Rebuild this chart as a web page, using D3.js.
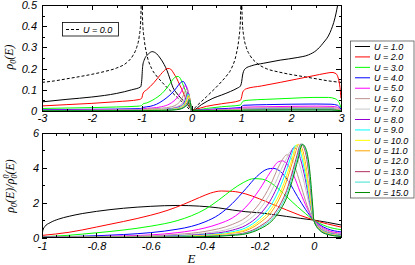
<!DOCTYPE html>
<html>
<head>
<meta charset="utf-8">
<script src="https://cdn.jsdelivr.net/npm/d3@7"></script>
<style>
    body { margin: 0; background: #fff; }
    svg { display: block; }
    .tick text { font-family: "Liberation Sans", Arial, sans-serif; font-style: italic; font-size: 11px; fill: #000; }
    .tick line { stroke: #000; shape-rendering: crispEdges; }
</style>
</head>
<body>
<svg id="chart" width="415" height="265"></svg>
<script>
// Interaction strengths shown in the legend
const uValues = [1, 2, 3, 4, 5, 6, 7, 8, 9, 10, 11, 12, 13, 14, 15];

// Non-interacting density of states (dashed, U = 0.0)
const dos0 = [
    [-3, 0.135], [-2.75, 0.142], [-2.5, 0.152], [-2.25, 0.162], [-2, 0.173], [-1.75, 0.186], [-1.5, 0.203],
    [-1.3, 0.228], [-1.18, 0.26], [-1.1, 0.3], [-1.05, 0.35], [-1.02, 0.42], [-1.005, 0.52],
    [-0.995, 0.52], [-0.98, 0.42], [-0.95, 0.34], [-0.9, 0.27], [-0.8, 0.2], [-0.7, 0.165], [-0.6, 0.138],
    [-0.5, 0.113], [-0.4, 0.09], [-0.3, 0.067], [-0.2, 0.045], [-0.1, 0.023], [0, 0],
    [0.1, 0.023], [0.2, 0.045], [0.3, 0.067], [0.4, 0.09], [0.5, 0.113], [0.6, 0.138], [0.7, 0.165],
    [0.8, 0.2], [0.9, 0.27], [0.95, 0.34], [0.98, 0.42], [0.995, 0.52],
    [1.005, 0.52], [1.02, 0.42], [1.05, 0.35], [1.1, 0.3], [1.18, 0.26], [1.3, 0.228], [1.5, 0.2],
    [1.75, 0.184], [2, 0.172], [2.25, 0.162], [2.5, 0.152], [2.75, 0.142], [3, 0.135]
];

// rho_0(E) for each U (upper panel)
const rhoCurves = [
    [[-3, 0.043], [-2.5, 0.055], [-2, 0.066], [-1.5, 0.083], [-1.2, 0.1], [-1.02, 0.114], [-1.0, 0.14], [-0.98, 0.21],
     [-0.95, 0.24], [-0.86, 0.27], [-0.79, 0.28], [-0.7, 0.27], [-0.63, 0.25], [-0.55, 0.22], [-0.49, 0.19],
     [-0.43, 0.15], [-0.37, 0.11], [-0.3, 0.085], [-0.23, 0.065], [-0.15, 0.045], [-0.08, 0.03], [-0.03, 0.015],
     [0, 0.004], [0.03, 0.004], [0.2, 0.03], [0.43, 0.06], [0.6, 0.075], [0.78, 0.092], [0.92, 0.108], [0.98, 0.117],
     [1.0, 0.13], [1.03, 0.175], [1.08, 0.2], [1.2, 0.213], [1.44, 0.225], [1.78, 0.24], [2.12, 0.252], [2.35, 0.265],
     [2.5, 0.285], [2.64, 0.32], [2.78, 0.37], [2.88, 0.44], [2.95, 0.52]],
    [[-3, 0.024], [-2.5, 0.03], [-2, 0.036], [-1.5, 0.044], [-1.05, 0.054], [-1.0, 0.06], [-0.97, 0.085], [-0.9, 0.1],
     [-0.83, 0.115], [-0.75, 0.135], [-0.69, 0.152], [-0.62, 0.172], [-0.55, 0.19], [-0.49, 0.2], [-0.44, 0.2],
     [-0.4, 0.193], [-0.35, 0.175], [-0.3, 0.155], [-0.23, 0.12], [-0.18, 0.095], [-0.13, 0.065], [-0.07, 0.04],
     [-0.03, 0.02], [0, 0.004], [0.05, 0.006], [0.3, 0.022], [0.6, 0.034], [0.98, 0.05], [1.0, 0.06], [1.03, 0.09],
     [1.1, 0.105], [1.4, 0.118], [1.78, 0.135], [2.1, 0.15], [2.44, 0.166], [2.7, 0.178], [2.82, 0.182], [2.9, 0.176],
     [2.95, 0.15], [2.98, 0.11], [3, 0.06]],
    [[-3, 0.012], [-2, 0.016], [-1.5, 0.019], [-1.05, 0.023], [-1.0, 0.026], [-0.97, 0.034], [-0.9, 0.038],
     [-0.83, 0.045], [-0.72, 0.06], [-0.63, 0.075], [-0.55, 0.093], [-0.49, 0.11], [-0.43, 0.13], [-0.37, 0.15],
     [-0.31, 0.162], [-0.27, 0.163], [-0.22, 0.152], [-0.18, 0.13], [-0.13, 0.1], [-0.09, 0.075], [-0.05, 0.045],
     [-0.02, 0.02], [0, 0.004], [0.05, 0.004], [0.3, 0.012], [0.6, 0.02], [0.98, 0.028], [1.0, 0.035], [1.04, 0.047],
     [1.15, 0.051], [1.5, 0.055], [2, 0.06], [2.44, 0.064], [2.75, 0.064], [2.88, 0.058], [2.95, 0.045], [3, 0.015]],
    [[-3, 0.006], [-2, 0.008], [-1.05, 0.011], [-1.0, 0.013], [-0.97, 0.017], [-0.83, 0.022], [-0.7, 0.032],
     [-0.57, 0.05], [-0.45, 0.072], [-0.37, 0.09], [-0.3, 0.11], [-0.25, 0.126], [-0.2, 0.137], [-0.17, 0.14],
     [-0.13, 0.128], [-0.09, 0.105], [-0.06, 0.075], [-0.03, 0.04], [0, 0.004], [0.05, 0.003], [0.5, 0.01],
     [0.98, 0.016], [1.0, 0.02], [1.05, 0.027], [1.5, 0.03], [2, 0.032], [2.5, 0.033], [2.8, 0.032], [2.93, 0.027], [3, 0.008]],
    [[-3, 0.004], [-2, 0.005], [-1.05, 0.007], [-1.0, 0.008], [-0.97, 0.011], [-0.8, 0.014], [-0.6, 0.02],
     [-0.45, 0.032], [-0.35, 0.048], [-0.27, 0.068], [-0.21, 0.09], [-0.16, 0.11], [-0.13, 0.12], [-0.1, 0.114],
     [-0.07, 0.095], [-0.045, 0.065], [-0.02, 0.03], [0, 0.004], [0.05, 0.002], [0.5, 0.007], [0.98, 0.011],
     [1.0, 0.013], [1.05, 0.018], [1.5, 0.02], [2, 0.022], [2.5, 0.023], [2.8, 0.022], [2.93, 0.018], [3, 0.005]],
    [[-3, 0.003], [-1.05, 0.005], [-1.0, 0.006], [-0.97, 0.008], [-0.6, 0.013], [-0.4, 0.02], [-0.3, 0.03],
     [-0.22, 0.048], [-0.16, 0.075], [-0.12, 0.097], [-0.1, 0.105], [-0.08, 0.1], [-0.055, 0.08], [-0.03, 0.045],
     [-0.01, 0.015], [0, 0.004], [0.05, 0.002], [0.5, 0.005], [0.98, 0.008], [1.0, 0.01], [1.05, 0.013], [2, 0.016],
     [2.8, 0.016], [2.93, 0.013], [3, 0.004]],
    [[-3, 0.002], [-1.0, 0.004], [-0.97, 0.006], [-0.6, 0.009], [-0.4, 0.014], [-0.3, 0.02], [-0.2, 0.034],
     [-0.14, 0.06], [-0.1, 0.088], [-0.085, 0.095], [-0.065, 0.088], [-0.045, 0.068], [-0.025, 0.04], [-0.01, 0.015],
     [0, 0.004], [0.05, 0.002], [0.98, 0.006], [1.05, 0.01], [2, 0.012], [2.8, 0.012], [3, 0.003]],
    [[-3, 0.002], [-1.0, 0.003], [-0.97, 0.005], [-0.6, 0.007], [-0.4, 0.011], [-0.3, 0.016], [-0.2, 0.027],
     [-0.13, 0.05], [-0.095, 0.075], [-0.075, 0.087], [-0.058, 0.082], [-0.04, 0.065], [-0.022, 0.038],
     [-0.008, 0.014], [0, 0.004], [0.05, 0.002], [0.98, 0.005], [1.05, 0.008], [2, 0.01], [2.8, 0.01], [3, 0.003]],
    [[-3, 0.002], [-1.0, 0.003], [-0.97, 0.004], [-0.6, 0.006], [-0.4, 0.009], [-0.3, 0.013], [-0.2, 0.022],
     [-0.13, 0.04], [-0.095, 0.062], [-0.068, 0.08], [-0.052, 0.075], [-0.036, 0.06], [-0.02, 0.035],
     [-0.007, 0.013], [0, 0.004], [0.05, 0.002], [0.98, 0.004], [1.05, 0.007], [2, 0.009], [2.8, 0.009], [3, 0.002]],
    [[-3, 0.002], [-1.0, 0.003], [-0.97, 0.004], [-0.6, 0.005], [-0.4, 0.008], [-0.3, 0.011], [-0.2, 0.019],
     [-0.13, 0.035], [-0.09, 0.056], [-0.062, 0.074], [-0.047, 0.07], [-0.033, 0.056], [-0.018, 0.033],
     [-0.006, 0.012], [0, 0.004], [0.05, 0.002], [0.98, 0.004], [1.05, 0.006], [2, 0.008], [2.8, 0.008], [3, 0.002]],
    [[-3, 0.001], [-1.0, 0.002], [-0.97, 0.003], [-0.6, 0.004], [-0.4, 0.007], [-0.3, 0.01], [-0.2, 0.017],
     [-0.13, 0.031], [-0.085, 0.05], [-0.056, 0.068], [-0.043, 0.065], [-0.03, 0.052], [-0.016, 0.031],
     [-0.005, 0.011], [0, 0.004], [0.05, 0.002], [0.98, 0.003], [1.05, 0.005], [2, 0.007], [2.8, 0.007], [3, 0.002]],
    [[-3, 0.001], [-1.0, 0.002], [-0.97, 0.003], [-0.6, 0.004], [-0.4, 0.006], [-0.3, 0.009], [-0.2, 0.015],
     [-0.13, 0.028], [-0.08, 0.046], [-0.052, 0.063], [-0.04, 0.06], [-0.028, 0.049], [-0.015, 0.03],
     [-0.005, 0.011], [0, 0.004], [0.05, 0.002], [0.98, 0.003], [1.05, 0.005], [2, 0.006], [2.8, 0.006], [3, 0.002]],
    [[-3, 0.001], [-1.0, 0.002], [-0.97, 0.003], [-0.6, 0.003], [-0.4, 0.005], [-0.3, 0.008], [-0.2, 0.013],
     [-0.13, 0.025], [-0.075, 0.043], [-0.048, 0.059], [-0.037, 0.056], [-0.026, 0.046], [-0.014, 0.028],
     [-0.004, 0.01], [0, 0.004], [0.05, 0.002], [0.98, 0.003], [1.05, 0.004], [2, 0.006], [2.8, 0.006], [3, 0.002]],
    [[-3, 0.001], [-1.0, 0.002], [-0.97, 0.002], [-0.6, 0.003], [-0.4, 0.005], [-0.3, 0.007], [-0.2, 0.012],
     [-0.13, 0.022], [-0.07, 0.04], [-0.045, 0.055], [-0.034, 0.052], [-0.024, 0.043], [-0.013, 0.026],
     [-0.004, 0.01], [0, 0.004], [0.05, 0.002], [0.98, 0.002], [1.05, 0.004], [2, 0.005], [2.8, 0.005], [3, 0.001]],
    [[-3, 0.001], [-1.0, 0.002], [-0.97, 0.002], [-0.6, 0.003], [-0.4, 0.004], [-0.3, 0.006], [-0.2, 0.011],
     [-0.13, 0.02], [-0.066, 0.037], [-0.042, 0.052], [-0.032, 0.049], [-0.022, 0.04], [-0.012, 0.024],
     [-0.004, 0.009], [0, 0.004], [0.05, 0.002], [0.98, 0.002], [1.05, 0.004], [2, 0.005], [2.8, 0.005], [3, 0.001]]
];

// rho_0(E) / rho_0^0(E) for each U (lower panel)
const ratioCurves = [
    [[-1, 0], [-0.997, 0.4], [-0.99, 0.62], [-0.97, 0.85], [-0.94, 1.05], [-0.9, 1.22], [-0.85, 1.38], [-0.8, 1.5],
     [-0.7, 1.68], [-0.6, 1.79], [-0.5, 1.84], [-0.42, 1.8], [-0.35, 1.7], [-0.3, 1.58], [-0.25, 1.48], [-0.2, 1.42],
     [-0.15, 1.32], [-0.1, 1.21], [-0.05, 1.1], [0, 1.0], [0.02, 0.95], [0.05, 0.87], [0.1, 0.72]],
    [[-1, 0.12], [-0.95, 0.2], [-0.9, 0.3], [-0.8, 0.6], [-0.7, 0.92], [-0.6, 1.28], [-0.54, 1.55], [-0.48, 1.9],
     [-0.42, 2.3], [-0.38, 2.55], [-0.34, 2.67], [-0.3, 2.65], [-0.25, 2.5], [-0.2, 2.22], [-0.15, 1.9], [-0.1, 1.58],
     [-0.05, 1.27], [0, 1.0], [0.02, 0.9], [0.05, 0.78], [0.1, 0.6]],
    [[-1, 0.04], [-0.9, 0.13], [-0.8, 0.27], [-0.7, 0.43], [-0.6, 0.65], [-0.5, 0.98], [-0.45, 1.25], [-0.4, 1.62],
     [-0.35, 2.15], [-0.3, 2.75], [-0.26, 3.15], [-0.22, 3.38], [-0.19, 3.35], [-0.15, 3.05], [-0.12, 2.65],
     [-0.08, 2.05], [-0.04, 1.5], [0, 1.0], [0.02, 0.82], [0.05, 0.62], [0.1, 0.45]],
    [[-1, 0.02], [-0.9, 0.05], [-0.8, 0.1], [-0.7, 0.17], [-0.6, 0.28], [-0.5, 0.48], [-0.45, 0.64], [-0.4, 0.9],
     [-0.35, 1.3], [-0.3, 1.95], [-0.25, 2.8], [-0.21, 3.5], [-0.17, 3.93], [-0.15, 3.97], [-0.12, 3.75],
     [-0.09, 3.15], [-0.06, 2.35], [-0.03, 1.6], [0, 1.0], [0.02, 0.75], [0.05, 0.5], [0.1, 0.32]],
    [[-1, 0.01], [-0.8, 0.06], [-0.6, 0.15], [-0.5, 0.28], [-0.4, 0.55], [-0.35, 0.78], [-0.3, 1.12], [-0.25, 1.75],
     [-0.2, 2.75], [-0.16, 3.75], [-0.13, 4.35], [-0.115, 4.4], [-0.095, 4.15], [-0.075, 3.6], [-0.05, 2.6],
     [-0.025, 1.7], [0, 1.0], [0.02, 0.7], [0.05, 0.42], [0.1, 0.25]],
    [[-1, 0.005], [-0.8, 0.04], [-0.6, 0.1], [-0.5, 0.18], [-0.4, 0.35], [-0.3, 0.75], [-0.25, 1.15], [-0.2, 1.95],
     [-0.16, 3.0], [-0.13, 4.05], [-0.11, 4.6], [-0.1, 4.75], [-0.085, 4.6], [-0.065, 3.85], [-0.045, 2.85],
     [-0.025, 1.85], [0, 1.0], [0.02, 0.65], [0.05, 0.36], [0.1, 0.2]],
    [[-1, 0.004], [-0.8, 0.03], [-0.6, 0.07], [-0.5, 0.13], [-0.4, 0.25], [-0.3, 0.55], [-0.25, 0.9], [-0.2, 1.6],
     [-0.15, 2.85], [-0.12, 3.9], [-0.1, 4.55], [-0.085, 4.95], [-0.07, 4.85], [-0.055, 4.3], [-0.04, 3.45],
     [-0.02, 2.1], [0, 1.0], [0.02, 0.6], [0.05, 0.32], [0.1, 0.17]],
    [[-1, 0.003], [-0.8, 0.02], [-0.6, 0.05], [-0.5, 0.1], [-0.4, 0.19], [-0.3, 0.42], [-0.25, 0.7], [-0.2, 1.3],
     [-0.15, 2.4], [-0.12, 3.45], [-0.1, 4.25], [-0.085, 4.85], [-0.075, 5.15], [-0.062, 5.05], [-0.048, 4.45],
     [-0.032, 3.4], [-0.015, 2.0], [0, 1.0], [0.02, 0.57], [0.05, 0.29], [0.1, 0.15]],
    [[-1, 0.002], [-0.8, 0.015], [-0.6, 0.04], [-0.5, 0.08], [-0.4, 0.15], [-0.3, 0.33], [-0.25, 0.56], [-0.2, 1.1],
     [-0.15, 2.05], [-0.12, 3.05], [-0.1, 3.9], [-0.085, 4.6], [-0.068, 5.28], [-0.055, 5.1], [-0.042, 4.45],
     [-0.028, 3.35], [-0.012, 1.9], [0, 1.0], [0.02, 0.54], [0.05, 0.27], [0.1, 0.13]],
    [[-1, 0.002], [-0.8, 0.012], [-0.6, 0.03], [-0.5, 0.06], [-0.4, 0.12], [-0.3, 0.27], [-0.25, 0.46], [-0.2, 0.95],
     [-0.15, 1.8], [-0.12, 2.7], [-0.1, 3.55], [-0.08, 4.5], [-0.062, 5.33], [-0.05, 5.15], [-0.038, 4.5],
     [-0.025, 3.4], [-0.01, 1.85], [0, 1.0], [0.02, 0.52], [0.05, 0.25], [0.1, 0.11]],
    [[-1, 0.001], [-0.8, 0.01], [-0.6, 0.025], [-0.5, 0.05], [-0.4, 0.1], [-0.3, 0.22], [-0.25, 0.39], [-0.2, 0.83],
     [-0.15, 1.6], [-0.12, 2.45], [-0.1, 3.25], [-0.08, 4.25], [-0.065, 5.0], [-0.056, 5.35], [-0.045, 5.2],
     [-0.034, 4.6], [-0.022, 3.5], [-0.008, 1.8], [0, 1.0], [0.02, 0.5], [0.05, 0.23], [0.1, 0.1]],
    [[-1, 0.001], [-0.8, 0.008], [-0.6, 0.02], [-0.5, 0.04], [-0.4, 0.08], [-0.3, 0.19], [-0.25, 0.33], [-0.2, 0.72],
     [-0.15, 1.42], [-0.12, 2.2], [-0.1, 2.95], [-0.08, 3.95], [-0.065, 4.75], [-0.052, 5.36], [-0.042, 5.22],
     [-0.031, 4.65], [-0.02, 3.55], [-0.007, 1.8], [0, 1.0], [0.02, 0.48], [0.05, 0.21], [0.1, 0.09]],
    [[-1, 0.001], [-0.8, 0.007], [-0.6, 0.017], [-0.5, 0.034], [-0.4, 0.07], [-0.3, 0.16], [-0.25, 0.28], [-0.2, 0.63],
     [-0.15, 1.27], [-0.12, 2.0], [-0.1, 2.7], [-0.08, 3.7], [-0.062, 4.7], [-0.048, 5.36], [-0.038, 5.22],
     [-0.028, 4.7], [-0.018, 3.6], [-0.006, 1.8], [0, 1.0], [0.02, 0.46], [0.05, 0.2], [0.1, 0.08]],
    [[-1, 0.001], [-0.8, 0.006], [-0.6, 0.014], [-0.5, 0.028], [-0.4, 0.06], [-0.3, 0.14], [-0.25, 0.24], [-0.2, 0.55],
     [-0.15, 1.14], [-0.12, 1.82], [-0.1, 2.48], [-0.08, 3.45], [-0.06, 4.6], [-0.045, 5.36], [-0.035, 5.22],
     [-0.025, 4.7], [-0.016, 3.65], [-0.005, 1.8], [0, 1.0], [0.02, 0.45], [0.05, 0.19], [0.1, 0.07]],
    [[-1, 0.001], [-0.8, 0.005], [-0.6, 0.012], [-0.5, 0.024], [-0.4, 0.05], [-0.3, 0.12], [-0.25, 0.21], [-0.2, 0.48],
     [-0.15, 1.02], [-0.12, 1.66], [-0.1, 2.28], [-0.08, 3.22], [-0.058, 4.5], [-0.042, 5.35], [-0.032, 5.2],
     [-0.022, 4.65], [-0.014, 3.7], [-0.004, 1.8], [0, 1.0], [0.02, 0.44], [0.05, 0.18], [0.1, 0.06]]
];

// Tick values
const topXTicks = [-3, -2, -1, 0, 1, 2, 3];
const topXMinor = [-2.5, -1.5, -0.5, 0.5, 1.5, 2.5];
const topYTicks = [0, 0.1, 0.2, 0.3, 0.4, 0.5];
const topYMinor = [0.05, 0.15, 0.25, 0.35, 0.45];
const botXTicks = [-1, -0.8, -0.6, -0.4, -0.2, 0];
const botXMinor = [-0.95, -0.9, -0.85, -0.75, -0.7, -0.65, -0.55, -0.5, -0.45, -0.35, -0.3, -0.25,
                   -0.15, -0.1, -0.05, 0.05, 0.1];
const botYTicks = [0, 2, 4, 6];
const botYMinor = [1, 3, 5];

// Grace-like line colours, one per U
const colors = ['#000000', '#ff0000', '#00ff00', '#0000ff', '#ff00ff', '#bc8f8f', '#c8c8c8', '#9400d3',
                '#00ffff', '#ffff00', '#ffa500', '#ffffff', '#b03060', '#40e0d0', '#008b00'];

const svg = d3.select('#chart');
const left = 42, right = 341;

const xTop = d3.scaleLinear().domain([-3, 3]).range([left, right]);
const yTop = d3.scaleLinear().domain([0, 0.5]).range([111, 5]);
const xBot = d3.scaleLinear().domain([-1, 0.1]).range([left, right]);
const yBot = d3.scaleLinear().domain([0, 6]).range([237.5, 133]);

const fmt = d => String(+d.toFixed(2));

// Draws a boxed panel with inward ticks on all four sides
function drawFrame(x, y, xt, xm, yt, ym, xPad, yPad) {
    const [x0, x1] = x.range();
    const [y1, y0] = y.range();
    const g = svg.append('g');

    const put = (axis, tx, ty) => {
        const a = g.append('g').attr('transform', `translate(${tx},${ty})`).call(axis);
        a.select('.domain').remove();
        return a;
    };

    put(d3.axisBottom(x).tickValues(xt).tickSize(-5).tickPadding(xPad).tickFormat(fmt), 0, y1);
    put(d3.axisBottom(x).tickValues(xm).tickSize(-2.5).tickFormat(''), 0, y1);
    put(d3.axisTop(x).tickValues(xt).tickSize(-5).tickFormat(''), 0, y0);
    put(d3.axisTop(x).tickValues(xm).tickSize(-2.5).tickFormat(''), 0, y0);
    put(d3.axisLeft(y).tickValues(yt).tickSize(-5).tickPadding(yPad).tickFormat(fmt), x0, 0);
    put(d3.axisLeft(y).tickValues(ym).tickSize(-2.5).tickFormat(''), x0, 0);
    put(d3.axisRight(y).tickValues(yt).tickSize(-5).tickFormat(''), x1, 0);
    put(d3.axisRight(y).tickValues(ym).tickSize(-2.5).tickFormat(''), x1, 0);

    g.append('rect')
        .attr('x', x0).attr('y', y0)
        .attr('width', x1 - x0).attr('height', y1 - y0)
        .attr('fill', 'none').attr('stroke', '#000').attr('stroke-width', 1)
        .attr('shape-rendering', 'crispEdges');
}

// Clip regions for each panel
const defs = svg.append('defs');
defs.append('clipPath').attr('id', 'clipTop').append('rect')
    .attr('x', left).attr('y', 5).attr('width', right - left).attr('height', 106);
defs.append('clipPath').attr('id', 'clipBot').append('rect')
    .attr('x', left).attr('y', 133).attr('width', right - left).attr('height', 104.5);

const lineTop = d3.line().x(d => xTop(d[0])).y(d => yTop(d[1])).curve(d3.curveMonotoneX);
const lineBot = d3.line().x(d => xBot(d[0])).y(d => yBot(d[1])).curve(d3.curveMonotoneX);

// Upper panel curves
const gTop = svg.append('g').attr('clip-path', 'url(#clipTop)');
gTop.append('path').attr('d', lineTop(dos0))
    .attr('fill', 'none').attr('stroke', '#000').attr('stroke-width', 1).attr('stroke-dasharray', '3,2');
rhoCurves.forEach((c, i) => {
    gTop.append('path').attr('d', lineTop(c))
        .attr('fill', 'none').attr('stroke', colors[i]).attr('stroke-width', 1);
});

// Lower panel curves
const gBot = svg.append('g').attr('clip-path', 'url(#clipBot)');
ratioCurves.forEach((c, i) => {
    gBot.append('path').attr('d', lineBot(c))
        .attr('fill', 'none').attr('stroke', colors[i]).attr('stroke-width', 1);
});

drawFrame(xTop, yTop, topXTicks, topXMinor, topYTicks, topYMinor, 3, 5);
drawFrame(xBot, yBot, botXTicks, botXMinor, botYTicks, botYMinor, 5, 3);

// Axis titles
const serif = '"Liberation Serif", "DejaVu Serif", serif';
const yl1 = svg.append('text')
    .attr('transform', 'translate(13,57) rotate(-90)')
    .attr('text-anchor', 'middle')
    .style('font-family', serif).style('font-size', '12px').style('font-style', 'italic');
yl1.append('tspan').text('ρ');
yl1.append('tspan').attr('dy', 3).style('font-size', '8px').text('0');
yl1.append('tspan').attr('dy', -3).text('(E)');

const yl2 = svg.append('text')
    .attr('transform', 'translate(14,186) rotate(-90)')
    .attr('text-anchor', 'middle')
    .style('font-family', serif).style('font-size', '12px').style('font-style', 'italic');
yl2.append('tspan').text('ρ');
yl2.append('tspan').attr('dy', 3).style('font-size', '8px').text('0');
yl2.append('tspan').attr('dy', -3).text('(E)/ρ');
yl2.append('tspan').attr('dy', 3).style('font-size', '8px').text('0');
yl2.append('tspan').attr('dx', -4).attr('dy', -8).style('font-size', '8px').text('0');
yl2.append('tspan').attr('dy', 5).text('(E)');

svg.append('text')
    .attr('x', (left + right) / 2).attr('y', 263)
    .attr('text-anchor', 'middle')
    .style('font-family', serif).style('font-size', '13px').style('font-style', 'italic')
    .text('E');

// Legend for U = 0.0 inside the upper panel
const sans = '"Liberation Sans", Arial, sans-serif';
svg.append('rect').attr('x', 62.5).attr('y', 22.5).attr('width', 56).attr('height', 13.5)
    .attr('fill', '#fff').attr('stroke', '#000').attr('stroke-width', 0.8);
svg.append('line').attr('x1', 66).attr('x2', 80).attr('y1', 29.5).attr('y2', 29.5)
    .attr('stroke', '#000').attr('stroke-dasharray', '3,2');
svg.append('text').attr('x', 83).attr('y', 32.5)
    .style('font-family', sans).style('font-size', '9px').style('font-style', 'italic')
    .text('U = 0.0');

// Legend for U = 1..15 to the right
const leg = svg.append('g');
leg.append('rect').attr('x', 350.5).attr('y', 41).attr('width', 63.5).attr('height', 157)
    .attr('fill', '#fff').attr('stroke', '#555').attr('stroke-width', 0.8);
uValues.forEach((u, i) => {
    const yy = 46.5 + i * 10.43;
    leg.append('line').attr('x1', 355).attr('x2', 370).attr('y1', yy).attr('y2', yy)
        .attr('stroke', colors[i]).attr('stroke-width', 1);
    leg.append('text').attr('x', 374).attr('y', yy + 3.2)
        .style('font-family', sans).style('font-size', '9px').style('font-style', 'italic')
        .text(`U = ${u.toFixed(1)}`);
});
</script>
</body>
</html>
